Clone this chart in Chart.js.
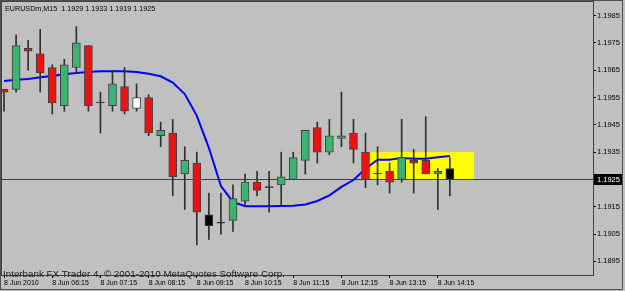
<!DOCTYPE html>
<html>
<head>
<meta charset="utf-8">
<script src="https://cdn.jsdelivr.net/npm/chart.js@4.4.0/dist/chart.umd.min.js"></script>
<style>
  html, body { margin: 0; padding: 0; background: #c0c0c0; }
  canvas { display: block; }
</style>
</head>
<body>
<canvas id="chart" width="625" height="291"></canvas>
<script>
// EURUSDm M15, 8 Jun 2010
const symbol = "EURUSDm";
const period = "M15";
const day = "8 Jun";
const year = "2010";
const copyright = "Interbank FX Trader 4, \u00a9 2001-2010 MetaQuotes Software Corp.";

const times = ["05:15","05:30","05:45","06:00","06:15","06:30","06:45","07:00",
  "07:15","07:30","07:45","08:00","08:15","08:30","08:45","09:00","09:15","09:30",
  "09:45","10:00","10:15","10:30","10:45","11:00","11:15","11:30","11:45","12:00",
  "12:15","12:30","12:45","13:00","13:15","13:30","13:45","14:00","14:15","14:30"];

const opens = [1.1958, 1.1958, 1.1973, 1.1971, 1.1966, 1.1952, 1.1966, 1.1974, 1.1953, 1.1952,
  1.1959, 1.1951, 1.1955, 1.1941, 1.1942, 1.1927, 1.1931, 1.1912, 1.1909, 1.1910,
  1.1917, 1.1924, 1.1922, 1.1923, 1.1925, 1.1932, 1.1944, 1.1935, 1.1940, 1.1942,
  1.1935, 1.1927, 1.1928, 1.1925, 1.1932, 1.1932, 1.1927, 1.1929];
const highs = [1.1958, 1.1978, 1.1976, 1.1980, 1.1967, 1.1969, 1.1981, 1.1974, 1.1957, 1.1965,
  1.1966, 1.1960, 1.1956, 1.1946, 1.1947, 1.1937, 1.1935, 1.1920, 1.1920, 1.1923,
  1.1927, 1.1928, 1.1928, 1.1935, 1.1935, 1.1943, 1.1946, 1.1947, 1.1957, 1.1947,
  1.1942, 1.1937, 1.1931, 1.1947, 1.1936, 1.1948, 1.1929, 1.1933];
const lows = [1.1950, 1.1957, 1.1965, 1.1957, 1.1949, 1.1950, 1.1964, 1.1950, 1.1942, 1.1950,
  1.1949, 1.1950, 1.1941, 1.1937, 1.1919, 1.1914, 1.1901, 1.1903, 1.1905, 1.1906,
  1.1915, 1.1919, 1.1913, 1.1915, 1.1925, 1.1927, 1.1931, 1.1934, 1.1937, 1.1931,
  1.1922, 1.1923, 1.1920, 1.1924, 1.1920, 1.1927, 1.1914, 1.1919];
const closes = [1.1957, 1.1974, 1.1972, 1.1964, 1.1953, 1.1967, 1.1975, 1.1952, 1.1953, 1.1960,
  1.1950, 1.1955, 1.1942, 1.1943, 1.1926, 1.1932, 1.1913, 1.1908, 1.1909, 1.1918,
  1.1924, 1.1921, 1.1922, 1.1926, 1.1933, 1.1943, 1.1935, 1.1941, 1.1941, 1.1936,
  1.1925, 1.1927, 1.1924, 1.1933, 1.1931, 1.1927, 1.1928, 1.1925];

// blue moving average
const ma = [1.19611, 1.19615, 1.19618, 1.19624, 1.19629, 1.19635, 1.19640, 1.19644, 1.19646, 1.19646,
  1.19646, 1.19644, 1.19637, 1.19628, 1.19605, 1.19563, 1.19483, 1.19366, 1.19226, 1.19168,
  1.19152, 1.19152, 1.19152, 1.19153, 1.19154, 1.19158, 1.19171, 1.19192, 1.19223, 1.19248,
  1.19289, 1.19322, 1.19322, 1.19329, 1.19326, 1.19326, 1.19331, 1.19336];

const yTicks = [1.1895, 1.1905, 1.1915, 1.1925, 1.1935, 1.1945, 1.1955, 1.1965, 1.1975, 1.1985];
const xTickTimes = ["05:15","06:15","07:15","08:15","09:15","10:15","11:15","12:15","13:15","14:15"];

// yellow rectangle object
const boxTimes = ["12:45", "15:00"];
const boxPrices = [1.1935, 1.1925];

// styles
const bullColor = "#3cb371";
const bearColor = "#ee1111";
const dojiColor = "#202020";
const accent = { 11: "#ffffff", 17: "#000000", 37: "#000000" };

function minutes(t) {
  const p = t.split(":");
  return (+p[0]) * 60 + (+p[1]);
}
function barIndex(t) {
  return (minutes(t) - minutes(times[0])) / 15;
}
function candleColor(i) {
  if (accent[i]) return accent[i];
  if (closes[i] > opens[i]) return bullColor;
  if (closes[i] < opens[i]) return bearColor;
  return dojiColor;
}

const last = times.length - 1;

const decor = {
  id: "decor",
  beforeDraw(chart) {
    const ctx = chart.ctx;
    ctx.save();
    ctx.fillStyle = "#c0c0c0";
    ctx.fillRect(0, 0, chart.width, chart.height);
    ctx.restore();
  },
  beforeDatasetsDraw(chart) {
    const ctx = chart.ctx, a = chart.chartArea;
    const x = chart.scales.x, y = chart.scales.y;
    ctx.save();
    ctx.beginPath();
    ctx.rect(a.left, a.top, a.right - a.left, a.bottom - a.top);
    ctx.clip();
    const x1 = x.getPixelForValue(barIndex(boxTimes[0]));
    const x2 = x.getPixelForValue(barIndex(boxTimes[1]));
    const y1 = y.getPixelForValue(boxPrices[0]);
    const y2 = y.getPixelForValue(boxPrices[1]);
    ctx.fillStyle = "#ffff00";
    ctx.fillRect(x1, y1, x2 - x1, y2 - y1);
    // bid line
    const yb = Math.round(y.getPixelForValue(closes[last])) + 0.5;
    ctx.strokeStyle = "#404040";
    ctx.lineWidth = 1;
    ctx.beginPath();
    ctx.moveTo(a.left, yb);
    ctx.lineTo(a.right, yb);
    ctx.stroke();
    ctx.restore();
  },
  afterDraw(chart) {
    const ctx = chart.ctx, a = chart.chartArea;
    const y = chart.scales.y;
    ctx.save();
    // plot frame
    ctx.strokeStyle = "#404040";
    ctx.lineWidth = 1;
    ctx.strokeRect(1.5, 1.5, a.right - 1, a.bottom - 1);
    // window frame
    ctx.strokeStyle = "#505050";
    ctx.strokeRect(0.5, 0.5, chart.width - 3, chart.height - 2);
    // title
    ctx.fillStyle = "#000";
    ctx.font = "7.2px 'Liberation Sans', Arial, sans-serif";
    ctx.textBaseline = "alphabetic";
    ctx.textAlign = "left";
    ctx.fillText(symbol + "," + period + "  " + [opens[last], highs[last], lows[last], closes[last]]
      .map(v => v.toFixed(4)).join(" "), 5, 11);
    // copyright
    ctx.fillStyle = "#202020";
    ctx.font = "9.8px 'Liberation Sans', Arial, sans-serif";
    ctx.fillText(copyright, 3, 277);
    // current price label
    const yb = Math.round(y.getPixelForValue(closes[last]));
    ctx.fillStyle = "#000";
    ctx.fillRect(a.right + 1, yb - 5, 28, 11);
    ctx.fillStyle = "#fff";
    ctx.font = "7.5px 'Liberation Sans', Arial, sans-serif";
    ctx.textBaseline = "middle";
    ctx.fillText(closes[last].toFixed(4), a.right + 4, yb + 0.5);
    ctx.restore();
  }
};

Chart.defaults.font.family = "'Liberation Sans', Arial, sans-serif";
Chart.defaults.font.size = 7.5;
Chart.defaults.color = "#000";

new Chart("chart", {
  type: "bar",
  data: {
    datasets: [
      {
        type: "line",
        label: "MA",
        data: times.map((t, i) => ({ x: i, y: ma[i] })),
        borderColor: "#0000ff",
        borderWidth: 2,
        pointRadius: 0,
        tension: 0,
        order: 3
      },
      {
        label: "wick",
        data: times.map((t, i) => ({ x: i, y: [lows[i], highs[i]] })),
        backgroundColor: "#303030",
        borderWidth: 0,
        barThickness: 1,
        grouped: false,
        order: 2
      },
      {
        label: "body",
        data: times.map((t, i) => ({ x: i, y: [opens[i], closes[i]] })),
        backgroundColor: times.map((t, i) => candleColor(i)),
        borderColor: "#404040",
        borderWidth: 1,
        borderSkipped: false,
        barThickness: 8,
        minBarLength: 1,
        grouped: false,
        order: 1
      }
    ]
  },
  options: {
    responsive: false,
    animation: false,
    devicePixelRatio: 1,
    layout: { padding: { left: 2, top: 2, right: 2, bottom: 0 } },
    plugins: { legend: { display: false }, tooltip: { enabled: false } },
    scales: {
      x: {
        type: "linear",
        min: -0.17,
        max: 48.88,
        offset: false,
        afterBuildTicks: s => { s.ticks = xTickTimes.map(t => ({ value: barIndex(t) })); },
        afterFit: s => { s.height = 16; s.paddingLeft = 0; s.paddingRight = 0; },
        ticks: {
          autoSkip: false,
          maxRotation: 0,
          align: "start",
          padding: 1,
          font: { size: 7 },
          callback: v => v === 0 ? day + " " + year : day + " " + times[v]
        },
        grid: { drawOnChartArea: false, tickLength: 3, color: "#000", offset: false },
        border: { display: false }
      },
      y: {
        type: "linear",
        position: "right",
        min: 1.1890,
        max: 1.1990,
        afterBuildTicks: s => { s.ticks = yTicks.map(v => ({ value: v })); },
        afterFit: s => { s.width = 30; s.paddingTop = 0; s.paddingBottom = 0; },
        ticks: { padding: 1, callback: v => v.toFixed(4) },
        grid: { drawOnChartArea: false, tickLength: 3, color: "#000" },
        border: { display: false }
      }
    }
  },
  plugins: [decor]
});
</script>
</body>
</html>
